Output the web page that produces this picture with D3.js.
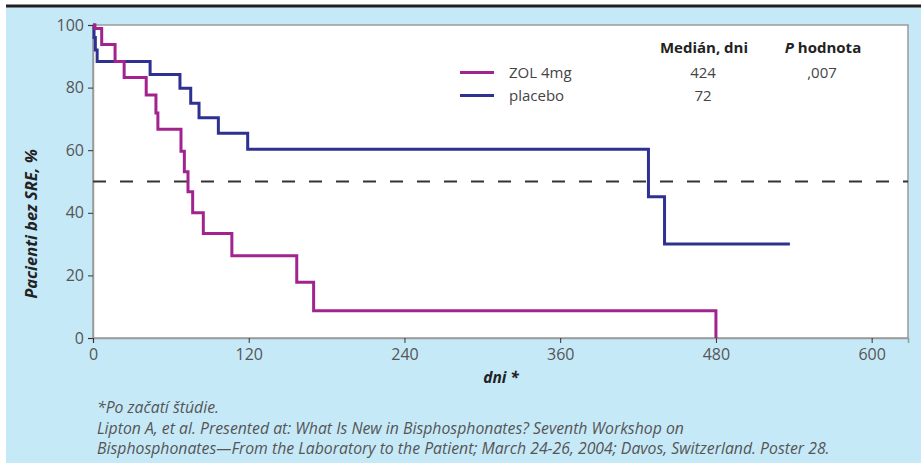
<!DOCTYPE html>
<html><head><meta charset="utf-8">
<script src="https://cdn.jsdelivr.net/npm/d3@7"></script>
<style>body{margin:0;padding:0;background:#fff;} svg{display:block;}</style>
</head><body>
<svg id="chart" width="921" height="463"></svg>
<script>
// Data: step points [day, percent]
const zolSteps = [[0,100],[1.5,98.9],[6.7,93.8],[17,88.3],[24,83.2],[41,77.6],[48.5,71.9],[50,66.7],[67.8,59.7],[70.4,53.1],[73.2,46.7],[76.8,40],[85,33.4],[107,26.3],[157,17.8],[170,8.7],[480,0]];
const zolEnd = 480;
const placeboSteps = [[0,100],[0.8,96],[1.8,92],[3.2,88.3],[44,84.2],[67,79.8],[75.3,75],[81.7,70.4],[96.6,65.4],[119.2,60.3],[428,45.1],[440.4,30]];
const placeboEnd = 537;
const xTicks = [0,120,240,360,480,600];
const yTicks = [0,20,40,60,80,100];
const legendNames = ["ZOL 4mg","placebo"];
const medians = ["424","72"];
const pValues = [",007",""];
const footnotes = ["*Po začatí štúdie.",
 "Lipton A, et al. Presented at: What Is New in Bisphosphonates? Seventh Workshop on",
 "Bisphosphonates\u2014From the Laboratory to the Patient; March 24-26, 2004; Davos, Switzerland. Poster 28."];

const colors = ["#a3238e","#2e3192"];
const font = "'Open Sans', 'Noto Sans', sans-serif";
const svg = d3.select("#chart");

// background
svg.append("rect").attr("x",6).attr("y",7).attr("width",915).attr("height",456).attr("fill","#c6e9f8");
svg.append("rect").attr("x",6).attr("y",4.5).attr("width",915).attr("height",3).attr("fill","#231f20");

const L=93, R=908, T=25, B=338;
const x = d3.scaleLinear().domain([0, 628]).range([L, R]);
const y = d3.scaleLinear().domain([0, 100]).range([B, T]);

svg.append("rect").attr("x",L).attr("y",T).attr("width",R-L).attr("height",B-T)
  .attr("fill","#fff").attr("stroke","#9a9a9a").attr("stroke-width",1.5);

// axes
const yAxis = svg.append("g").attr("transform",`translate(${L},0)`)
  .call(d3.axisLeft(y).tickValues(yTicks).tickSize(5).tickPadding(4));
const xAxis = svg.append("g").attr("transform",`translate(0,${B})`)
  .call(d3.axisBottom(x).tickValues(xTicks).tickSize(5).tickPadding(6));
[yAxis,xAxis].forEach(g=>{
  g.select(".domain").attr("stroke","#9a9a9a").attr("stroke-width",1.5);
  g.selectAll(".tick line").attr("stroke","#333");
  g.selectAll(".tick text").attr("fill","#555").style("font-family",font).style("font-size","16px");
});

// dashed median line
svg.append("line").attr("x1",x(0)).attr("x2",R).attr("y1",y(50)).attr("y2",y(50))
  .attr("stroke","#333").attr("stroke-width",1.8).attr("stroke-dasharray","13,14");

// curves
function stepPath(steps, endDay){
  const pts = steps.slice();
  pts.push([endDay, pts[pts.length-1][1]]);
  return d3.line().x(d=>x(d[0])).y(d=>y(d[1])).curve(d3.curveStepAfter)(pts);
}
svg.append("path").attr("d",stepPath(placeboSteps,placeboEnd)).attr("fill","none")
  .attr("stroke",colors[1]).attr("stroke-width",3);
svg.append("path").attr("d",stepPath(zolSteps,zolEnd)).attr("fill","none")
  .attr("stroke",colors[0]).attr("stroke-width",3);

// legend
legendNames.forEach((n,i)=>{
  const ly = 72.5 + i*23;
  svg.append("line").attr("x1",460).attr("x2",494).attr("y1",ly).attr("y2",ly)
    .attr("stroke",colors[i]).attr("stroke-width",3);
  svg.append("text").attr("x",509).attr("y",ly+5).text(n)
    .attr("fill","#444").style("font-family",font).style("font-size","15px");
  svg.append("text").attr("x",703).attr("y",ly+5).attr("text-anchor","middle").text(medians[i])
    .attr("fill","#444").style("font-family",font).style("font-size","15px");
  if(pValues[i]) svg.append("text").attr("x",822).attr("y",ly+5).attr("text-anchor","middle").text(pValues[i])
    .attr("fill","#444").style("font-family",font).style("font-size","15px");
});
svg.append("text").attr("x",704).attr("y",53).attr("text-anchor","middle").text("Medián, dni")
  .attr("fill","#222").style("font-family",font).style("font-size","15px").style("font-weight","bold");
const ph = svg.append("text").attr("x",823).attr("y",53).attr("text-anchor","middle")
  .attr("fill","#222").style("font-family",font).style("font-size","15px").style("font-weight","bold");
ph.append("tspan").style("font-style","italic").text("P");
ph.append("tspan").text(" hodnota");

// axis titles
svg.append("text").attr("transform","translate(37,224) rotate(-90)").attr("text-anchor","middle")
  .text("Pacienti bez SRE, %").attr("fill","#222").style("font-family",font)
  .style("font-size","16.5px").style("font-weight","bold").style("font-style","italic");
svg.append("text").attr("x",501).attr("y",383).attr("text-anchor","middle").text("dni *")
  .attr("fill","#222").style("font-family",font)
  .style("font-size","15.5px").style("font-weight","bold").style("font-style","italic");

// footnotes
footnotes.forEach((t,i)=>{
  svg.append("text").attr("x",97).attr("y",413+i*20.5).text(t)
    .attr("fill","#555").style("font-family",font).style("font-size","15.8px").style("font-style","italic");
});
</script>
</body></html>
